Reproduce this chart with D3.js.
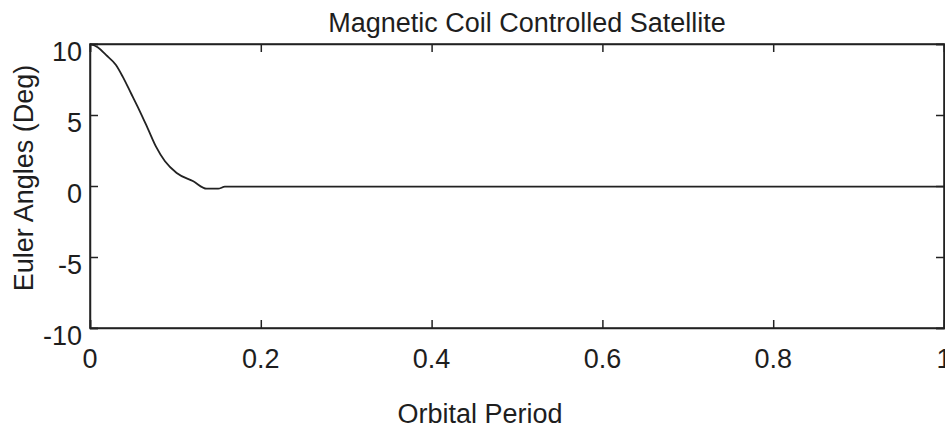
<!DOCTYPE html>
<html>
<head>
<meta charset="utf-8">
<script src="https://cdn.jsdelivr.net/npm/d3@7"></script>
<style>
  body { margin: 0; background: #fff; }
  text { font-family: "Liberation Sans", Arial, sans-serif; fill: #1e1e1e; }
</style>
</head>
<body>
<div id="container"></div>
<script>
// orbital period vs euler angle (deg)
var period = [0, 0.009, 0.0187, 0.0304, 0.0383, 0.048, 0.0577, 0.0676, 0.0773, 0.0878, 0.1015, 0.121, 0.1366, 0.150, 0.158, 0.20, 0.40, 0.60, 0.80, 1.0];
var angle  = [10, 9.77, 9.23, 8.52, 7.70, 6.53, 5.35, 4.06, 2.77, 1.74, 0.92, 0.33, -0.19, -0.19, -0.05, -0.05, -0.05, -0.05, -0.05, -0.05];
var xTicks = [0, 0.2, 0.4, 0.6, 0.8, 1];
var yTicks = [-10, -5, 0, 5, 10];

var width = 945,
    height = 428,
    plotLeft = 90,
    plotRight = 944,
    plotTop = 44,
    plotBottom = 328,
    tickLen = 8;

var svg = d3.select('#container')
    .append('svg')
    .attr('width', width)
    .attr('height', height);

var x = d3.scaleLinear().domain([0, 1]).range([plotLeft, plotRight]);
var y = d3.scaleLinear().domain([-10, 10]).range([plotBottom, plotTop]);

// axes, inward ticks on all four sides
svg.append('g')
    .attr('transform', 'translate(0,' + plotBottom + ')')
    .call(d3.axisBottom(x).tickValues(xTicks).tickSize(-tickLen).tickFormat(''));
svg.append('g')
    .attr('transform', 'translate(0,' + plotTop + ')')
    .call(d3.axisTop(x).tickValues(xTicks).tickSize(-tickLen).tickFormat(''));
svg.append('g')
    .attr('transform', 'translate(' + plotLeft + ',0)')
    .call(d3.axisLeft(y).tickValues(yTicks).tickSize(-tickLen).tickFormat(''));
svg.append('g')
    .attr('transform', 'translate(' + plotRight + ',0)')
    .call(d3.axisRight(y).tickValues(yTicks).tickSize(-tickLen).tickFormat(''));

svg.selectAll('.domain, .tick line')
    .attr('stroke', '#222')
    .attr('stroke-width', 1.5);

svg.append('rect')
    .attr('x', plotLeft)
    .attr('y', plotTop)
    .attr('width', plotRight - plotLeft)
    .attr('height', plotBottom - plotTop)
    .attr('fill', 'none')
    .attr('stroke', '#222')
    .attr('stroke-width', 1.5);

// tick labels
svg.selectAll('.xlab')
    .data(xTicks)
    .enter()
    .append('text')
    .attr('x', function(d) { return x(d); })
    .attr('y', 368)
    .attr('text-anchor', 'middle')
    .style('font-size', '27px')
    .text(function(d) { return d; });

svg.selectAll('.ylab')
    .data(yTicks)
    .enter()
    .append('text')
    .attr('x', 82)
    .attr('y', function(d) { return y(d) + 17; })
    .attr('text-anchor', 'end')
    .style('font-size', '27px')
    .text(function(d) { return d; });

var line = d3.line()
    .x(function(d, i) { return x(period[i]); })
    .y(function(d) { return y(d); })
    .curve(d3.curveMonotoneX);

svg.append('path')
    .datum(angle)
    .attr('d', line)
    .attr('fill', 'none')
    .attr('stroke', '#222')
    .attr('stroke-width', 1.8);

svg.append('text')
    .attr('x', 527)
    .attr('y', 32)
    .attr('text-anchor', 'middle')
    .style('font-size', '27px')
    .text('Magnetic Coil Controlled Satellite');

svg.append('text')
    .attr('x', 480)
    .attr('y', 423)
    .attr('text-anchor', 'middle')
    .style('font-size', '27px')
    .text('Orbital Period');

svg.append('text')
    .attr('transform', 'translate(33,178) rotate(-90)')
    .attr('text-anchor', 'middle')
    .style('font-size', '27px')
    .text('Euler Angles (Deg)');
</script>
</body>
</html>
